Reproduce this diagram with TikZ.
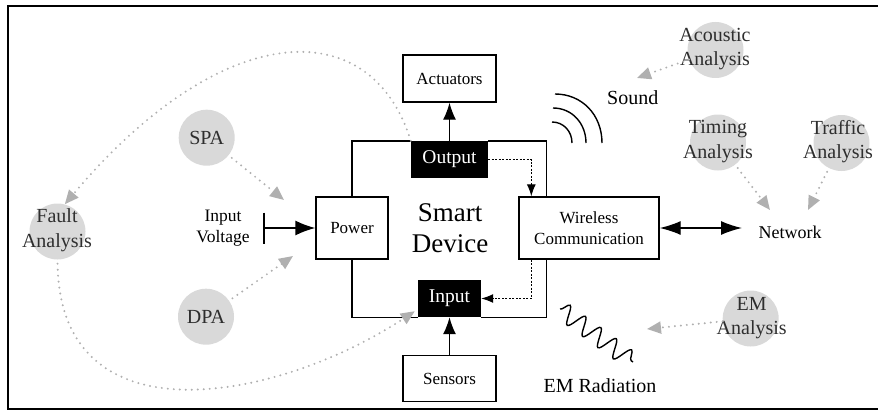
\documentclass[tikz,border=0pt]{standalone}
\usepackage{fontspec}
\setmainfont{Liberation Serif}
\usetikzlibrary{arrows.meta,calc,decorations.pathmorphing}
\definecolor{cgray}{HTML}{D9D9D9}
\definecolor{dgray}{HTML}{B0B0B0}
\definecolor{tgray}{HTML}{2E2E2E}
\begin{document}
\begin{tikzpicture}[x=1pt,y=-1pt,
 box/.style={draw,line width=1.4pt,inner sep=0pt,font=\fontsize{17}{21.5}\selectfont,align=center},
 bbox/.style={fill=black,text=white,inner sep=0pt,font=\fontsize{19.5}{23}\selectfont},
 gcirc/.style={circle,fill=cgray,minimum size=56pt,inner sep=0pt},
 glab/.style={text=tgray,font=\fontsize{20}{24.5}\selectfont,align=center,inner sep=0pt},
 lab/.style={font=\fontsize{20}{24}\selectfont,align=center,inner sep=0pt},
 plain/.style={line width=1.4pt},
 sarrow/.style={line width=1.4pt,-{Latex[length=17pt,width=13pt]}},
 darrow/.style={line width=1.1pt,dash pattern=on 2pt off 1.5pt,-{Latex[length=12pt,width=9pt]}},
 garrow/.style={dgray,line width=2.2pt,dash pattern=on 0pt off 6pt,line cap=round,-{Triangle[length=14pt,width=12pt,fill=dgray,line cap=butt]}}
]
\useasboundingbox (0,0) rectangle (878,412);
\draw[line width=2pt] (878,6.5) -- (8,6.5) -- (8,409) -- (878,409);

% boxes
\node[box,minimum width=93pt,minimum height=47pt] (act) at (449.5,78.5) {Actuators};
\node[box,minimum width=93pt,minimum height=46pt] (sen) at (449.5,378.5) {Sensors};
\node[box,minimum width=72pt,minimum height=62pt] (pow) at (352,228) {Power};
\node[box,minimum width=140pt,minimum height=62pt] (wl) at (589,228) {Wireless\\Communication};
\node[bbox,minimum width=77pt,minimum height=37pt] (out) at (449.5,159.5) {Output};
\node[bbox,minimum width=63pt,minimum height=37pt] (in) at (449.5,298.5) {Input};
\node[font=\fontsize{27}{30.5}\selectfont,align=center,inner sep=0pt] (sd) at (450,228) {Smart\\Device};

% device outline
\draw[plain] (pow.north) |- (out.north west);
\draw[plain] (out.north east) -| ($(wl.north west)+(28,0)$);
\draw[plain] (pow.south) |- (in.south west);
\draw[plain] (in.south east) -| ($(wl.south west)+(28,0)$);

% solid arrows
\draw[sarrow] (out.north) -- (act.south);
\draw[sarrow] (sen.north) -- (in.south);
\coordinate (iv) at (264,228);
\draw[plain] ($(iv)+(0,-15.5)$) -- ($(iv)+(0,15.5)$);
\draw[line width=1.4pt,-{Latex[length=20pt,width=15pt]}] (iv) -- (pow.west);
\node[lab,font=\fontsize{17.5}{21.3}\selectfont] (ivt) at (223,228.5) {Input\\Voltage};

\node[lab,font=\fontsize{18}{22}\selectfont] (net) at (790,232) {Network};
\coordinate (netA) at (742,228);
\draw[line width=1.4pt,{Latex[length=21pt,width=14pt]}-{Latex[length=21pt,width=14pt]}] (wl.east) -- (netA);

% dashed internal arrows
\draw[darrow] (out.east) -| ($(wl.north west)+(13,0)$);
\draw[darrow] ($(wl.south west)+(13,0)$) |- (in.east);

% analysis circles
\node[gcirc] (spa) at (206.7,137.7) {};
\node[glab] (spat) at (spa) {SPA};
\node[gcirc] (dpa) at (206,316.7) {};
\node[glab] (dpat) at (dpa) {DPA};
\node[gcirc] (fault) at (57.5,231.5) {};
\node[glab] (faultt) at (57,230) {Fault\\Analysis};
\node[gcirc] (acou) at (715.5,50) {};
\node[glab] (acout) at (715,49) {Acoustic\\Analysis};
\node[gcirc] (tim) at (718,142.5) {};
\node[glab] (timt) at (718,141.7) {Timing\\Analysis};
\node[gcirc] (traf) at (841.5,143) {};
\node[glab] (traft) at (838,141.7) {Traffic\\Analysis};
\node[gcirc] (ema) at (750.7,318.5) {};
\node[glab] (emat) at (751.7,318) {EM\\Analysis};

% emanation labels
\node[lab] (snd) at (632.7,97.3) {Sound};
\node[lab] (emr) at (600,386) {EM Radiation};

% sound arcs
\draw[plain] (552,122) .. controls (563.6,122) and (572,131.4) .. (572,143);
\draw[plain] (553,108) .. controls (572.3,108) and (586,123.7) .. (586,143);
\draw[plain] (555,94) .. controls (582,94) and (602,114.8) .. (602,143);

% EM wave
\coordinate (w1) at (560,309);
\coordinate (w2) at (633,362);
\draw[line width=1.4pt,decorate,decoration={snake,segment length=19pt,amplitude=9pt}] (w1) -- (w2);

% gray dotted arrows
\coordinate (spatip) at (284,200);
\draw[garrow,shorten <=4pt] (spa) -- (spatip);
\coordinate (dpatip) at (293,256);
\draw[garrow,shorten <=4pt] (dpa) -- (dpatip);
\coordinate (soundtip) at (637,78);
\draw[garrow] (acou) -- (soundtip);
\coordinate (netT1) at (770,210);
\draw[garrow,shorten <=4pt] (tim) -- (netT1);
\coordinate (netT2) at (808,210);
\draw[garrow,shorten <=4pt] (traf) -- (netT2);
\coordinate (emtip) at (647,329);
\draw[garrow] (ema) -- (emtip);
\draw[garrow] (out.north west) .. controls (370,10) and (220,20) .. (fault.75);
\draw[garrow,shorten <=4pt] (fault.south) .. controls (60,445) and (280,400) .. ($(in.south west)+(-3,-6)$);
\end{tikzpicture}
\end{document}
